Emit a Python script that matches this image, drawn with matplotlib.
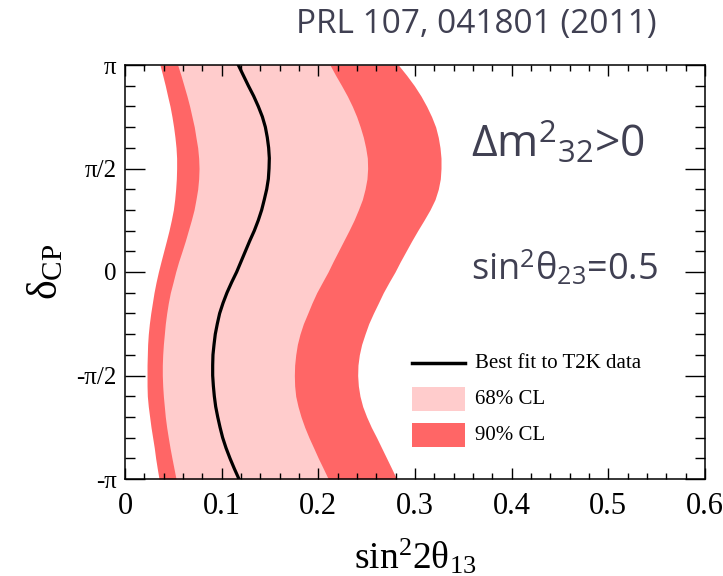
import numpy as np
import matplotlib
matplotlib.use("Agg")
import matplotlib.pyplot as plt
from matplotlib.patches import Rectangle
from matplotlib.lines import Line2D

plt.rcParams['mathtext.fontset'] = 'custom'
plt.rcParams['mathtext.rm'] = 'Liberation Serif'
plt.rcParams['mathtext.it'] = 'Liberation Serif:italic'
plt.rcParams['mathtext.sf'] = 'Open Sans'

# delta_CP sampled from pi down to -pi in steps of pi/20
delta_steps = list(range(20, -21, -1))  # units of pi/20
delta_cp = [k * np.pi / 20 for k in delta_steps]

cl90_left = [0.0362, 0.0390, 0.0417, 0.0441, 0.0466, 0.0486, 0.0503, 0.0517, 0.0528, 0.0534, 0.0534,
             0.0531, 0.0524, 0.0514, 0.0500, 0.0479, 0.0455, 0.0428, 0.0400, 0.0372, 0.0345,
             0.0321, 0.0300, 0.0283, 0.0266, 0.0252, 0.0241, 0.0234, 0.0231, 0.0228, 0.0228,
             0.0228, 0.0231, 0.0241, 0.0255, 0.0269, 0.0286, 0.0303, 0.0317, 0.0334, 0.0352]
cl68_left = [0.0545, 0.0579, 0.0610, 0.0641, 0.0669, 0.0693, 0.0717, 0.0734, 0.0752, 0.0762, 0.0766,
             0.0762, 0.0752, 0.0734, 0.0714, 0.0686, 0.0655, 0.0624, 0.0590, 0.0555, 0.0524,
             0.0497, 0.0469, 0.0448, 0.0431, 0.0417, 0.0407, 0.0397, 0.0390, 0.0386, 0.0386,
             0.0390, 0.0397, 0.0407, 0.0417, 0.0431, 0.0448, 0.0466, 0.0486, 0.0507, 0.0528]
best_fit = [0.1172, 0.1224, 0.1276, 0.1331, 0.1379, 0.1421, 0.1452, 0.1472, 0.1486, 0.1493, 0.1490,
            0.1483, 0.1466, 0.1441, 0.1414, 0.1379, 0.1338, 0.1290, 0.1245, 0.1200, 0.1155,
            0.1103, 0.1055, 0.1014, 0.0979, 0.0955, 0.0934, 0.0921, 0.0910, 0.0907, 0.0907,
            0.0914, 0.0924, 0.0938, 0.0959, 0.0983, 0.1010, 0.1045, 0.1086, 0.1131, 0.1179]
cl68_right = [0.2121, 0.2179, 0.2241, 0.2300, 0.2352, 0.2397, 0.2434, 0.2466, 0.2490, 0.2507, 0.2510,
              0.2503, 0.2483, 0.2455, 0.2414, 0.2369, 0.2317, 0.2262, 0.2207, 0.2152, 0.2100,
              0.2041, 0.1983, 0.1934, 0.1890, 0.1845, 0.1810, 0.1783, 0.1766, 0.1755, 0.1752,
              0.1755, 0.1766, 0.1790, 0.1821, 0.1859, 0.1903, 0.1952, 0.2000, 0.2052, 0.2103]
cl90_right = [0.2828, 0.2914, 0.2993, 0.3062, 0.3121, 0.3172, 0.3214, 0.3241, 0.3259, 0.3269, 0.3269,
              0.3262, 0.3241, 0.3207, 0.3155, 0.3093, 0.3028, 0.2966, 0.2907, 0.2848, 0.2793,
              0.2731, 0.2672, 0.2621, 0.2569, 0.2521, 0.2483, 0.2448, 0.2424, 0.2410, 0.2407,
              0.2414, 0.2431, 0.2459, 0.2500, 0.2548, 0.2603, 0.2655, 0.2707, 0.2759, 0.2810]

xticks = [0, 0.1, 0.2, 0.3, 0.4, 0.5, 0.6]
xticklabels = ['0', '0.1', '0.2', '0.3', '0.4', '0.5', '0.6']
yticks = [np.pi, np.pi / 2, 0, -np.pi / 2, -np.pi]
yticklabels = ['π', 'π/2', '0', '-π/2', '-π']
legend_labels = ['Best fit to T2K data', '68% CL', '90% CL']

c90 = '#FF6666'
c68 = '#FFCCCC'
txtcol = '#404052'

fig = plt.figure(figsize=(7.23, 5.76), dpi=100)
ax = fig.add_axes([125 / 723, 97 / 576, 580 / 723, 414 / 576])

ax.fill_betweenx(delta_cp, cl90_left, cl90_right, color=c90, lw=0)
ax.fill_betweenx(delta_cp, cl68_left, cl68_right, color=c68, lw=0)
ax.plot(best_fit, delta_cp, color='black', lw=2.3, solid_joinstyle='round')

ax.set_xlim(0, 0.6)
ax.set_ylim(-np.pi, np.pi)
ax.set_xticks(xticks)
ax.set_xticklabels(xticklabels, family='Liberation Serif', fontsize=22)
ax.set_xticks(np.arange(0, 0.6001, 0.02), minor=True)
ax.set_yticks(yticks)
ax.set_yticklabels(yticklabels, family='Liberation Serif', fontsize=18)
ax.set_yticks(np.arange(-10, 11) * np.pi / 10, minor=True)

ax.tick_params(axis='both', which='both', direction='in', top=True, right=True, width=1.0)
ax.tick_params(axis='x', which='major', length=8, pad=9)
ax.tick_params(axis='x', which='minor', length=4.3)
ax.tick_params(axis='y', which='major', length=14.5, pad=6)
ax.tick_params(axis='y', which='minor', length=7.5)
for s in ax.spines.values():
    s.set_linewidth(1.1)

ax.set_xlabel(r'sin$^{2}$2θ$_{13}$', family='Liberation Serif', fontsize=27, labelpad=12)
ax.set_ylabel(r'δ$_{\mathrm{CP}}$', family='Liberation Serif', fontsize=30, labelpad=7)

# legend drawn in axes coordinates
ax.add_line(Line2D([0.495, 0.586], [0.280, 0.280], transform=ax.transAxes, color='black', lw=2.5))
ax.add_patch(Rectangle((0.495, 0.164), 0.091, 0.058, transform=ax.transAxes, color=c68, lw=0))
ax.add_patch(Rectangle((0.495, 0.077), 0.091, 0.058, transform=ax.transAxes, color=c90, lw=0))
for yy, lab in zip([0.280, 0.193, 0.106], legend_labels):
    ax.text(0.603, yy, lab, transform=ax.transAxes, family='Liberation Serif', fontsize=15,
            va='center', ha='left')

fig.text(476 / 723, 1 - 25 / 576, 'PRL 107, 041801 (2011)', family='Open Sans', fontsize=24,
         color=txtcol, ha='center', va='center')
fig.text(471 / 723, 1 - 157 / 576, r'Δm$^{\mathsf{2}}{}_{\mathsf{32}}$>0', family='Open Sans',
         fontsize=32, color=txtcol, ha='left', va='baseline')
fig.text(471 / 723, 1 - 280 / 576, r'sin$^{\mathsf{2}}$θ$_{\mathsf{23}}$=0.5', family='Open Sans',
         fontsize=26, color=txtcol, ha='left', va='baseline')

fig.savefig('out.png', dpi=100)
